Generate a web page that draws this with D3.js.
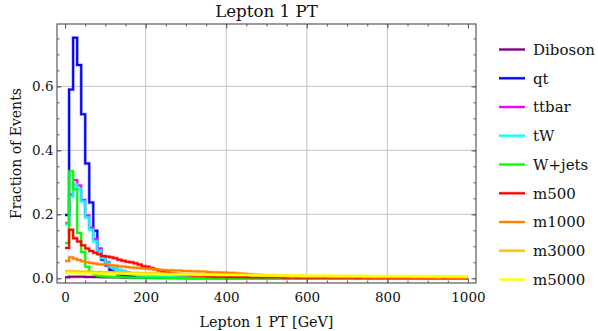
<!DOCTYPE html>
<html><head><meta charset="utf-8">
<script src="https://cdn.jsdelivr.net/npm/d3@7"></script>
<style>
html,body{margin:0;padding:0;background:#fff;}
svg{display:block;}
text{font-family:"DejaVu Serif",serif;fill:#111;}
</style></head>
<body>
<svg id="c" width="598" height="331"></svg>
<script>
// ---- data (fraction of events per 10 GeV bin, 0..1000 GeV) ----
const binEdges = [0, 1000];
const binWidth = 10;
const seriesNames = ["Diboson","qt","ttbar","tW","W+jets","m500","m1000","m3000","m5000"];
const seriesColors = ["#800080","#0000ff","#ff00ff","#00ffff","#00ff00","#ff0000","#ff8000","#ffbf00","#ffff00"];
const xTicks = [0,200,400,600,800,1000];
const yTicks = [0.0,0.2,0.4,0.6];
const xGrid = [200,400,600,800];
const yGrid = [0.2,0.4,0.6];

const diboson = [
0.003,0.005,0.005,0.005,0.005,0.004,0.004,0.004,0.004,0.003,
0.003,0.003,0.003,0.003,0.002,0.002,0.002,0.002,0.002,0.002,
0.002,0.002,0.001,0.001,0.001,0.001,0.001,0.001,0.001,0.001,
0.001,0.001,0.001,0.001,0.001,0.001,0.001,0.001,0.001,0.001,
0.001,0.001,0.001,0.001,0.001,0.001,0.001,0.001,0.001,0.001,
0.001,0.001,0.001,0.001,0.001,0.001,0.001,0.001,0.001,0.001,
0.001,0.001,0.001,0.001,0.001,0.001,0.001,0.001,0.001,0.001,
0.001,0.001,0.001,0.001,0.001,0.001,0.001,0.001,0.001,0.001,
0.001,0.001,0.001,0.001,0.001,0.001,0.001,0.001,0.001,0.001,
0.001,0.001,0.001,0.001,0.001,0.001,0.001,0.001,0.001,0.001];
const qt = [
0.198,0.590,0.752,0.667,0.513,0.359,0.237,0.149,0.092,0.058,
0.040,0.026,0.017,0.012,0.009,0.007,0.006,0.005,0.004,0.004,
0.003,0.003,0.003,0.002,0.002,0.002,0.002,0.002,0.002,0.002,
0.001,0.001,0.001,0.001,0.001,0.001,0.001,0.001,0.001,0.001,
0.001,0.001,0.001,0.001,0.001,0.001,0.001,0.001,0.001,0.001,
0.001,0.001,0.001,0.001,0.001,0.001,0.001,0.001,0.001,0.001,
0.001,0.001,0.001,0.001,0.001,0.001,0.001,0.001,0.001,0.001,
0.001,0.001,0.001,0.001,0.001,0.001,0.001,0.001,0.001,0.001,
0.001,0.001,0.001,0.001,0.001,0.001,0.001,0.001,0.001,0.001,
0.001,0.001,0.001,0.001,0.001,0.001,0.001,0.001,0.001,0.001];
const ttbar = [
0.172,0.262,0.307,0.290,0.245,0.196,0.158,0.123,0.092,0.068,
0.050,0.038,0.031,0.026,0.022,0.018,0.014,0.011,0.009,0.008,
0.007,0.006,0.005,0.005,0.004,0.004,0.004,0.003,0.003,0.003,
0.003,0.003,0.002,0.002,0.002,0.002,0.002,0.002,0.002,0.002,
0.001,0.001,0.001,0.001,0.001,0.001,0.001,0.001,0.001,0.001,
0.001,0.001,0.001,0.001,0.001,0.001,0.001,0.001,0.001,0.001,
0.001,0.001,0.001,0.001,0.001,0.001,0.001,0.001,0.001,0.001,
0.001,0.001,0.001,0.001,0.001,0.001,0.001,0.001,0.001,0.001,
0.001,0.001,0.001,0.001,0.001,0.001,0.001,0.001,0.001,0.001,
0.001,0.001,0.001,0.001,0.001,0.001,0.001,0.001,0.001,0.001];
const tW = [
0.168,0.255,0.293,0.280,0.240,0.190,0.152,0.116,0.086,0.063,
0.047,0.036,0.030,0.026,0.022,0.018,0.014,0.011,0.009,0.008,
0.007,0.006,0.005,0.005,0.004,0.004,0.003,0.003,0.003,0.003,
0.002,0.002,0.002,0.002,0.002,0.002,0.002,0.002,0.002,0.002,
0.001,0.001,0.001,0.001,0.001,0.001,0.001,0.001,0.001,0.001,
0.001,0.001,0.001,0.001,0.001,0.001,0.001,0.001,0.001,0.001,
0.001,0.001,0.001,0.001,0.001,0.001,0.001,0.001,0.001,0.001,
0.001,0.001,0.001,0.001,0.001,0.001,0.001,0.001,0.001,0.001,
0.001,0.001,0.001,0.001,0.001,0.001,0.001,0.001,0.001,0.001,
0.001,0.001,0.001,0.001,0.001,0.001,0.001,0.001,0.001,0.001];
const wjets = [
0.110,0.335,0.278,0.142,0.082,0.036,0.019,0.012,0.008,0.006,
0.005,0.004,0.004,0.003,0.003,0.003,0.002,0.002,0.002,0.002,
0.002,0.002,0.002,0.002,0.002,0.001,0.001,0.001,0.001,0.001,
0.001,0.001,0.001,0.001,0.001,0.001,0.001,0.001,0.001,0.001,
0.001,0.001,0.001,0.001,0.001,0.001,0.001,0.001,0.001,0.001,
0.001,0.001,0.001,0.001,0.001,0.001,0.001,0.001,0.001,0.001,
0.001,0.001,0.001,0.001,0.001,0.001,0.001,0.001,0.001,0.001,
0.001,0.001,0.001,0.001,0.001,0.001,0.001,0.001,0.001,0.001,
0.001,0.001,0.001,0.001,0.001,0.001,0.001,0.001,0.001,0.001,
0.001,0.001,0.001,0.001,0.001,0.001,0.001,0.001,0.001,0.001];
const m500 = [
0.095,0.152,0.125,0.115,0.103,0.093,0.085,0.080,0.075,0.070,
0.068,0.066,0.063,0.058,0.055,0.052,0.050,0.047,0.043,0.038,
0.036,0.032,0.028,0.024,0.020,0.018,0.016,0.014,0.012,0.011,
0.010,0.009,0.008,0.008,0.007,0.006,0.006,0.005,0.005,0.005,
0.004,0.004,0.004,0.004,0.004,0.003,0.003,0.003,0.003,0.003,
0.003,0.003,0.003,0.003,0.002,0.002,0.003,0.002,0.002,0.002,
0.002,0.002,0.002,0.002,0.002,0.002,0.002,0.002,0.002,0.002,
0.002,0.002,0.001,0.002,0.002,0.001,0.002,0.001,0.001,0.002,
0.001,0.001,0.001,0.002,0.001,0.001,0.001,0.001,0.001,0.001,
0.001,0.001,0.001,0.001,0.001,0.001,0.001,0.001,0.001,0.001];
const m1000 = [
0.054,0.066,0.061,0.057,0.053,0.050,0.048,0.046,0.044,0.043,
0.042,0.041,0.040,0.038,0.037,0.035,0.034,0.033,0.032,0.031,
0.030,0.029,0.028,0.027,0.026,0.025,0.025,0.024,0.024,0.023,
0.023,0.022,0.022,0.021,0.021,0.020,0.019,0.019,0.018,0.018,
0.017,0.017,0.016,0.015,0.014,0.013,0.012,0.011,0.010,0.009,
0.008,0.008,0.007,0.007,0.007,0.006,0.006,0.006,0.006,0.005,
0.005,0.005,0.005,0.005,0.005,0.004,0.004,0.004,0.004,0.004,
0.004,0.004,0.004,0.004,0.003,0.004,0.003,0.003,0.003,0.003,
0.003,0.003,0.003,0.003,0.003,0.003,0.003,0.003,0.003,0.003,
0.003,0.003,0.002,0.003,0.003,0.002,0.003,0.002,0.002,0.002];
const m3000 = [
0.022,0.022,0.022,0.021,0.021,0.021,0.020,0.020,0.020,0.019,
0.019,0.019,0.018,0.018,0.018,0.017,0.017,0.017,0.016,0.016,
0.016,0.016,0.015,0.015,0.015,0.014,0.014,0.014,0.014,0.013,
0.013,0.013,0.013,0.012,0.012,0.012,0.012,0.011,0.011,0.011,
0.011,0.011,0.010,0.010,0.010,0.010,0.010,0.009,0.009,0.009,
0.009,0.009,0.009,0.008,0.008,0.008,0.008,0.008,0.008,0.007,
0.007,0.007,0.007,0.007,0.007,0.007,0.006,0.006,0.006,0.006,
0.006,0.006,0.006,0.006,0.006,0.005,0.005,0.005,0.005,0.005,
0.005,0.005,0.005,0.005,0.005,0.005,0.005,0.004,0.004,0.004,
0.004,0.004,0.004,0.004,0.004,0.004,0.004,0.004,0.004,0.004];
const m5000 = [
0.017,0.017,0.017,0.016,0.016,0.016,0.016,0.016,0.015,0.015,
0.015,0.015,0.015,0.014,0.014,0.014,0.014,0.014,0.013,0.013,
0.013,0.013,0.013,0.013,0.012,0.012,0.012,0.012,0.012,0.012,
0.012,0.011,0.011,0.011,0.011,0.011,0.011,0.011,0.010,0.010,
0.010,0.010,0.010,0.010,0.010,0.010,0.009,0.010,0.009,0.009,
0.009,0.009,0.009,0.009,0.009,0.009,0.008,0.009,0.008,0.008,
0.008,0.008,0.008,0.008,0.009,0.008,0.008,0.008,0.007,0.008,
0.008,0.007,0.007,0.008,0.007,0.007,0.007,0.007,0.007,0.007,
0.007,0.007,0.007,0.007,0.007,0.007,0.006,0.007,0.007,0.006,
0.006,0.007,0.006,0.006,0.006,0.006,0.006,0.006,0.006,0.006];
const seriesValues = [diboson, qt, ttbar, tW, wjets, m500, m1000, m3000, m5000];

// ---- layout ----
const svg = d3.select("#c");
const L = 57, R = 476, T = 24, B = 283;
const x = d3.scaleLinear().domain([-20, 1020]).range([L, R]);
const y = d3.scaleLinear().domain([-0.0147, 0.795]).range([B, T]);

// grid
svg.append("g").selectAll("line").data(xGrid).join("line")
  .attr("x1", d => x(d)).attr("x2", d => x(d)).attr("y1", T).attr("y2", B)
  .attr("stroke", "#c4c4c4").attr("stroke-width", 1);
svg.append("g").selectAll("line").data(yGrid).join("line")
  .attr("y1", d => y(d)).attr("y2", d => y(d)).attr("x1", L).attr("x2", R)
  .attr("stroke", "#c4c4c4").attr("stroke-width", 1);

// clip
svg.append("clipPath").attr("id", "pc").append("rect")
  .attr("x", L).attr("y", T).attr("width", R - L).attr("height", B - T);

const line = d3.line().x(d => x(d[0])).y(d => y(d[1])).curve(d3.curveStepAfter);
const plot = svg.append("g").attr("clip-path", "url(#pc)");
seriesValues.forEach((vals, k) => {
  const pts = vals.map((v, i) => [binEdges[0] + i * binWidth, v]);
  pts.push([binEdges[1], vals[vals.length - 1]]);
  plot.append("path").attr("d", line(pts)).attr("fill", "none")
    .attr("stroke", seriesColors[k]).attr("stroke-opacity", 0.3).attr("stroke-width", 3.4);
  plot.append("path").attr("d", line(pts)).attr("fill", "none")
    .attr("stroke", seriesColors[k]).attr("stroke-width", 2);
});

// axes (ticks inward on all sides)
const frameCol = "#5a5a5a";
const xMinor = d3.range(0, 1001, 50);
const yMinor = d3.range(0, 0.78, 0.05);
function tickAxis(axisFn, scale, vals, size, tr, labels, fmt) {
  const a = axisFn(scale).tickValues(vals).tickSizeInner(size).tickSizeOuter(0).tickPadding(6);
  if (!labels) a.tickFormat("");
  else a.tickFormat(fmt);
  const g = svg.append("g").attr("transform", tr).call(a);
  g.select(".domain").remove();
  g.selectAll(".tick line").attr("stroke", frameCol).attr("stroke-width", 1);
  g.selectAll("text").attr("font-family", "DejaVu Serif").attr("font-size", 13.5).attr("fill", "#111");
  return g;
}
tickAxis(d3.axisBottom, x, xMinor, -2.5, `translate(0,${B})`, false);
tickAxis(d3.axisTop, x, xMinor, -2.5, `translate(0,${T})`, false);
tickAxis(d3.axisLeft, y, yMinor, -2.5, `translate(${L},0)`, false);
tickAxis(d3.axisRight, y, yMinor, -2.5, `translate(${R},0)`, false);
const gx = tickAxis(d3.axisBottom, x, xTicks, -4.5, `translate(0,${B})`, true, d3.format("d"));
gx.selectAll("text").attr("y", 9.5).attr("dy", "0.71em");
tickAxis(d3.axisTop, x, xTicks, -4.5, `translate(0,${T})`, false);
const gy = tickAxis(d3.axisLeft, y, yTicks, -4.5, `translate(${L},0)`, true, d3.format(".1f"));
gy.selectAll("text").attr("x", -3.5);
tickAxis(d3.axisRight, y, yTicks, -4.5, `translate(${R},0)`, false);

svg.append("rect").attr("x", L).attr("y", T).attr("width", R - L).attr("height", B - T)
  .attr("fill", "none").attr("stroke", frameCol).attr("stroke-width", 1.2);

// titles
svg.append("text").attr("x", (L + R) / 2).attr("y", 17).attr("text-anchor", "middle")
  .attr("font-size", 16.7).text("Lepton 1 PT");
svg.append("text").attr("x", (L + R) / 2).attr("y", 327).attr("text-anchor", "middle")
  .attr("font-size", 14.3).text("Lepton 1 PT [GeV]");
svg.append("text").attr("transform", `translate(20.5,${(T + B) / 2}) rotate(-90)`)
  .attr("text-anchor", "middle").attr("font-size", 14).text("Fraction of Events");

// legend
const lg = svg.append("g");
seriesNames.forEach((n, k) => {
  const cy = 49.5 + k * 28.75;
  lg.append("line").attr("x1", 499).attr("x2", 525).attr("y1", cy).attr("y2", cy)
    .attr("stroke", seriesColors[k]).attr("stroke-width", 3.2).attr("stroke-opacity", 0.35);
  lg.append("line").attr("x1", 499).attr("x2", 525).attr("y1", cy).attr("y2", cy)
    .attr("stroke", seriesColors[k]).attr("stroke-width", 2);
  lg.append("text").attr("x", 533).attr("y", cy + 5.3).attr("font-size", 15).text(n);
});
</script>
</body></html>
